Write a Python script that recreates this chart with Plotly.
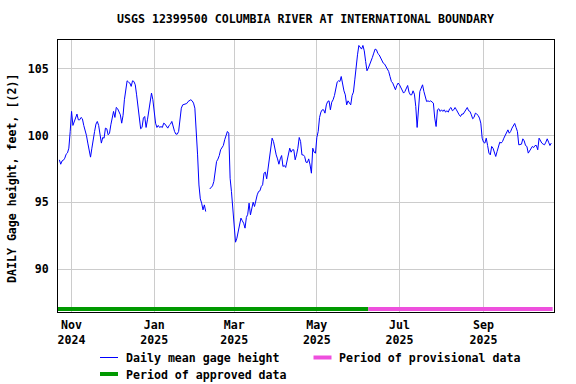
import pandas as pd
import plotly.graph_objects as go

# ---------------- data ----------------
start_date = "2024-10-23"
gage_height = [
    98.18, 97.85, 98.1, 98.15, 98.3, 98.6, 98.7, 99.05, 100.3,
    101.8, 100.75, 101.05, 101.4, 101.6, 101.17, 101.17, 101.35, 101.25, 100.75,
    100.4, 100.0, 99.43, 98.8, 98.38, 99.05, 99.85, 100.3, 100.85, 101.05,
    100.75, 100.17, 99.43, 99.85, 99.8, 100.55, 100.5, 100.05, 100.17, 100.8,
    101.3, 101.8, 101.35, 102.1, 102.0, 101.75, 101.55, 100.92, 101.5, 102.67,
    103.54, 104.09, 103.99, 103.92, 103.67, 104.09, 104.04, 103.79, 103.04, 102.29,
    101.42, 100.5, 100.6, 101.3, 101.42, 100.6, 101.17, 101.92, 102.54, 103.17,
    102.67, 101.8, 100.92, 100.6, 100.75, 100.6, 100.67, 100.6, 100.92, 100.85,
    100.67, 100.55, 100.75, 100.85, 101.05, 100.55, 100.3, 100.1, 100.1, 100.3,
    101.17, 102.04, 102.29, 102.34, 102.34, 102.39, 102.54, 102.62, 102.67, 102.59,
    102.42, 102.04, 100.55, 98.55, 96.3, 95.26, 94.94, 94.44, 94.81, 94.31,
    None, None, 96.0, 96.13, 96.23, 96.56, 97.43, 98.05, 98.23, 98.5,
    98.93, 99.1, 99.25, 99.68, 100.05, 100.3, 100.17, 96.8, 95.8, 94.56,
    93.07, 92.02, 92.32, 92.82, 93.19, 93.82, 93.62, 93.44, 93.07, 93.87,
    94.11, 94.94, 94.06, 94.44, 95.01, 94.69, 95.26, 95.56, 95.81, 95.86,
    96.18, 96.31, 97.18, 97.26, 96.76, 97.56, 98.55, 99.43, 99.8, 99.55,
    98.93, 98.55, 98.25, 97.85, 98.25, 98.5, 97.68, 97.76, 97.61, 98.05,
    98.68, 99.05, 98.75, 98.93, 98.93, 98.18, 98.55, 99.05, 99.85, 99.55,
    98.55, 98.55, 98.43, 98.0, 97.98, 98.25, 97.8, 97.18, 99.05, 98.75,
    98.68, 99.85, 100.3, 101.35, 101.75, 101.92, 101.92, 101.67, 102.29, 102.54,
    102.59, 101.92, 102.49, 102.67, 102.99, 103.67, 103.99, 104.09, 104.04, 104.41,
    103.67, 103.34, 103.04, 102.29, 102.59, 102.42, 102.29, 102.99, 103.24, 104.16,
    105.24, 106.03, 106.73, 106.58, 106.46, 106.73, 106.33, 105.54, 104.84, 105.04,
    105.29, 105.49, 105.84, 106.16, 106.46, 106.41, 106.13, 106.03, 105.79, 105.54,
    105.41, 105.34, 105.16, 104.96, 104.79, 104.41, 104.04, 103.92, 103.59, 103.42,
    103.74, 103.92, 103.79, 103.54, 103.29, 103.17, 103.29, 103.54, 103.74, 103.24,
    103.04, 103.04, 103.34, 103.09, 102.17, 100.6, 102.29, 103.29, 103.54, 103.79,
    103.29, 102.79, 102.54, 102.59, 102.54, 102.59, 102.49, 102.42, 101.3, 100.67,
    101.92, 102.0, 101.8, 101.92, 101.8, 101.92, 101.75, 101.85, 101.75, 102.0,
    102.09, 101.85, 101.92, 102.09, 101.92, 101.67, 101.55, 101.42, 101.6, 101.6,
    101.75, 101.85, 102.09, 101.85, 101.8, 101.55, 101.25, 101.35, 101.67, 101.6,
    101.5, 101.3, 100.92, 99.8, 99.5, 99.43, 99.8, 99.25, 98.68, 98.55,
    99.18, 99.05, 98.8, 98.43, 98.8, 99.25, 99.5, 99.43, 99.55, 99.8,
    100.0, 100.25, 100.42, 100.17, 100.3, 100.55, 100.75, 100.9, 100.6, 100.3,
    99.3, 99.35, 99.35, 99.75, 99.6, 99.25, 99.18, 98.68, 98.85, 99.0,
    99.18, 99.1, 99.25, 99.25, 98.93, 99.8, 99.6, 99.43, 99.35, 99.3,
    99.5, 99.75, 99.5, 99.25, 99.43,
]
dates = pd.date_range(start_date, periods=len(gage_height), freq="D")

approved_period = ["2024-10-22", "2025-06-08"]
provisional_period = ["2025-06-08", "2025-10-22"]
period_bar_level = 87.02

tick_dates = ["2024-11-01", "2025-01-01", "2025-03-01", "2025-05-01", "2025-07-01", "2025-09-01"]
tick_labels = ["Nov<br>2024", "Jan<br>2025", "Mar<br>2025", "May<br>2025", "Jul<br>2025", "Sep<br>2025"]
y_ticks = [90, 95, 100, 105]

title_text = "USGS 12399500 COLUMBIA RIVER AT INTERNATIONAL BOUNDARY"
y_title = "DAILY Gage height, feet, [(2)]"
legend_labels = ["Daily mean gage height", "Period of provisional data", "Period of approved data"]

# ---------------- styling ----------------
FONT = "DejaVu Sans Mono"
FS = 11.6
BLUE = "#0000ff"
GREEN = "#009900"
PINK = "#ee4fdd"

W, H = 576, 384
ML, MR, MT, MB = 58, 22, 40, 72
PW, PH = W - ML - MR, H - MT - MB


def px_x(p):
    return (p - ML) / PW


def px_y(p):
    return (H - MB - p) / PH


fig = go.Figure()
fig.add_trace(go.Scatter(
    x=dates, y=gage_height, mode="lines",
    line=dict(color=BLUE, width=1), connectgaps=False,
    name=legend_labels[0], showlegend=False, hoverinfo="skip",
))
fig.add_trace(go.Scatter(
    x=approved_period, y=[period_bar_level] * 2, mode="lines",
    line=dict(color=GREEN, width=4), name=legend_labels[2], showlegend=False,
    cliponaxis=False,
))
fig.add_trace(go.Scatter(
    x=provisional_period, y=[period_bar_level] * 2, mode="lines",
    line=dict(color=PINK, width=4), name=legend_labels[1], showlegend=False,
    cliponaxis=False,
))

fig.update_layout(
    width=W, height=H,
    margin=dict(l=ML, r=MR, t=MT, b=MB),
    paper_bgcolor="white", plot_bgcolor="white",
    font=dict(family=FONT, size=FS, color="black", weight="bold"),
    showlegend=False,
)
fig.update_xaxes(
    range=["2024-10-22", "2025-10-23"],
    tickmode="array", tickvals=tick_dates, ticktext=tick_labels,
    showgrid=True, gridcolor="#cccccc", gridwidth=1,
    showline=True, linecolor="black", linewidth=1, mirror=True,
    ticks="", zeroline=False, ticklabelstandoff=2,
    tickfont=dict(family=FONT, size=FS, color="black", weight="bold"),
)
fig.update_yaxes(
    range=[86.8, 107.14],
    tickmode="array", tickvals=y_ticks, ticktext=[str(v) for v in y_ticks],
    showgrid=True, gridcolor="#cccccc", gridwidth=1,
    showline=True, linecolor="black", linewidth=1, mirror=True,
    ticks="", zeroline=False, ticklabelstandoff=6,
    tickfont=dict(family=FONT, size=FS, color="black", weight="bold"),
)

annotations = [
    dict(text=title_text, x=px_x(305.5), y=px_y(19.5), xref="paper", yref="paper",
         showarrow=False, xanchor="center", yanchor="middle",
         font=dict(family=FONT, size=FS, color="black", weight="bold")),
    dict(text=y_title, x=px_x(12), y=px_y(179), xref="paper", yref="paper",
         showarrow=False, xanchor="center", yanchor="middle", textangle=-90,
         font=dict(family=FONT, size=FS, color="black", weight="bold")),
]
shapes = []
legend_items = [
    (legend_labels[0], BLUE, 1, 100, 357.5),
    (legend_labels[1], PINK, 4, 313.5, 357.5),
    (legend_labels[2], GREEN, 4, 100, 374),
]
for label, color, lw, x0, yc in legend_items:
    shapes.append(dict(type="line", xref="paper", yref="paper",
                       x0=px_x(x0), x1=px_x(x0 + 18), y0=px_y(yc), y1=px_y(yc),
                       line=dict(color=color, width=lw)))
    annotations.append(dict(text=label, x=px_x(x0 + 23.5), y=px_y(yc + 0.5),
                            xref="paper", yref="paper", showarrow=False,
                            xanchor="left", yanchor="middle",
                            font=dict(family=FONT, size=FS, color="black", weight="bold")))

fig.update_layout(annotations=annotations, shapes=shapes)
fig.write_html(
    "out.html",
    config={"displayModeBar": False},
    post_script="document.body.style.margin='0';document.body.style.padding='0';",
)
